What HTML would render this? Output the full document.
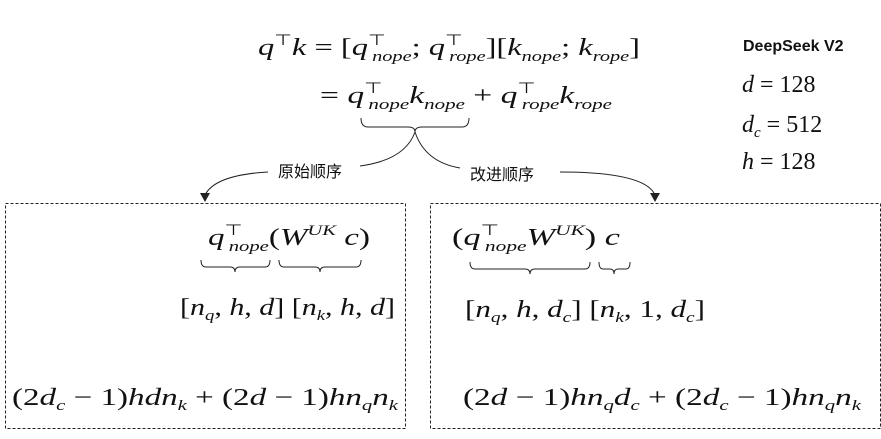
<!DOCTYPE html>
<html><head><meta charset="utf-8"><style>
body{margin:0;background:#fff;width:881px;height:439px;overflow:hidden}
svg{display:block}
.m{font-family:"Liberation Serif",serif;font-style:italic;font-size:24px;fill:#111}
.u{font-style:normal}
.s{font-size:15px}
.c{font-family:"Liberation Sans","Noto Sans CJK SC",sans-serif;font-size:16px;fill:#111}
</style></head><body>
<svg width="881" height="439" viewBox="0 0 881 439" xmlns="http://www.w3.org/2000/svg">
<g fill="none" stroke="#222" stroke-width="1">
<rect x="5.5" y="203.5" width="400" height="225" stroke-dasharray="3,2"/>
<rect x="430.5" y="203.5" width="450" height="225" stroke-dasharray="3,2"/>
<path d="M361,118 Q361,127 368,127 L408,127 Q415,127 415,132 Q415,127 422,127 L462,127 Q469,127 469,118"/>
<path d="M415,132 Q405,160 360,166"/>
<path d="M268,172 Q215,175 205,195"/>
<path d="M415,132 Q425,162 460,168"/>
<path d="M560,172 Q645,172 655,195"/>
<path d="M201,260 Q201,267 206,267 L230,267 Q235,267 235,272 Q235,267 240,267 L265,267 Q270,267 270,260"/>
<path d="M279,260 Q279,267 284,267 L315,267 Q320,267 320,272 Q320,267 325,267 L356,267 Q361,267 361,260"/>
<path d="M470,262 Q470,269 475,269 L525,269 Q530,269 530,274 Q530,269 535,269 L585,269 Q590,269 590,262"/>
<path d="M599,262 Q599,269 603,269 L610,269 Q614,269 614,274 Q614,269 618,269 L626,269 Q630,269 630,262"/>
</g>
<path d="M200,193 L210,193 L205,202 Z" fill="#222"/>
<path d="M650,193 L660,193 L655,202 Z" fill="#222"/>
<text class="c" x="278" y="177">原始顺序</text>
<text class="c" x="470" y="180">改进顺序</text>
<text class="c" x="743" y="51" font-weight="bold" font-size="15">DeepSeek V2</text>
<text class="m" x="742" y="92">d <tspan class="u">= 128</tspan></text>
<text class="m" x="742" y="132">d<tspan class="s" dy="5">c</tspan><tspan class="u" dy="-5"> = 512</tspan></text>
<text class="m" x="742" y="169">h <tspan class="u">= 128</tspan></text>

<text class="m" x="258" y="55" textLength="382" lengthAdjust="spacingAndGlyphs">q<tspan class="u s" dy="-10">⊤</tspan><tspan dy="10">k </tspan><tspan class="u">= [</tspan>q<tspan class="u s" dy="-10">⊤</tspan><tspan class="s" dx="-10" dy="16">nope</tspan><tspan class="u" dy="-6">; </tspan>q<tspan class="u s" dy="-10">⊤</tspan><tspan class="s" dx="-10" dy="16">rope</tspan><tspan class="u" dy="-6">][</tspan>k<tspan class="s" dy="6">nope</tspan><tspan class="u" dy="-6">; </tspan>k<tspan class="s" dy="6">rope</tspan><tspan class="u" dy="-6">]</tspan></text>
<text class="m" x="320" y="103" textLength="292" lengthAdjust="spacingAndGlyphs"><tspan class="u">= </tspan>q<tspan class="u s" dy="-10">⊤</tspan><tspan class="s" dx="-10" dy="16">nope</tspan><tspan dy="-6">k</tspan><tspan class="s" dy="6">nope</tspan><tspan class="u" dy="-6"> + </tspan>q<tspan class="u s" dy="-10">⊤</tspan><tspan class="s" dx="-10" dy="16">rope</tspan><tspan dy="-6">k</tspan><tspan class="s" dy="6">rope</tspan></text>

<text class="m" x="208" y="245" textLength="162" lengthAdjust="spacingAndGlyphs">q<tspan class="u s" dy="-10">⊤</tspan><tspan class="s" dx="-10" dy="16">nope</tspan><tspan class="u" dy="-6">(</tspan>W<tspan class="s" dy="-10">UK</tspan><tspan dy="10"> c</tspan><tspan class="u">)</tspan></text>
<text class="m" x="180" y="315" textLength="215" lengthAdjust="spacingAndGlyphs"><tspan class="u">[</tspan>n<tspan class="s" dy="5">q</tspan><tspan class="u" dy="-5">, </tspan>h<tspan class="u">, </tspan>d<tspan class="u">] [</tspan>n<tspan class="s" dy="5">k</tspan><tspan class="u" dy="-5">, </tspan>h<tspan class="u">, </tspan>d<tspan class="u">]</tspan></text>
<text class="m" x="12" y="405" textLength="386" lengthAdjust="spacingAndGlyphs"><tspan class="u">(2</tspan>d<tspan class="s" dy="5">c</tspan><tspan class="u" dy="-5"> − 1)</tspan>hdn<tspan class="s" dy="5">k</tspan><tspan class="u" dy="-5"> + (2</tspan>d<tspan class="u"> − 1)</tspan>hn<tspan class="s" dy="5">q</tspan><tspan dy="-5">n</tspan><tspan class="s" dy="5">k</tspan></text>

<text class="m" x="452" y="245" textLength="168" lengthAdjust="spacingAndGlyphs"><tspan class="u">(</tspan>q<tspan class="u s" dy="-10">⊤</tspan><tspan class="s" dx="-10" dy="16">nope</tspan><tspan dy="-6">W</tspan><tspan class="s" dy="-10">UK</tspan><tspan class="u" dy="10">) </tspan>c</text>
<text class="m" x="465" y="317" textLength="240" lengthAdjust="spacingAndGlyphs"><tspan class="u">[</tspan>n<tspan class="s" dy="5">q</tspan><tspan class="u" dy="-5">, </tspan>h<tspan class="u">, </tspan>d<tspan class="s" dy="5">c</tspan><tspan class="u" dy="-5">] [</tspan>n<tspan class="s" dy="5">k</tspan><tspan class="u" dy="-5">, 1, </tspan>d<tspan class="s" dy="5">c</tspan><tspan class="u" dy="-5">]</tspan></text>
<text class="m" x="463" y="405" textLength="398" lengthAdjust="spacingAndGlyphs"><tspan class="u">(2</tspan>d<tspan class="u"> − 1)</tspan>hn<tspan class="s" dy="5">q</tspan><tspan dy="-5">d</tspan><tspan class="s" dy="5">c</tspan><tspan class="u" dy="-5"> + (2</tspan>d<tspan class="s" dy="5">c</tspan><tspan class="u" dy="-5"> − 1)</tspan>hn<tspan class="s" dy="5">q</tspan><tspan dy="-5">n</tspan><tspan class="s" dy="5">k</tspan></text>
</svg>
</body></html>
